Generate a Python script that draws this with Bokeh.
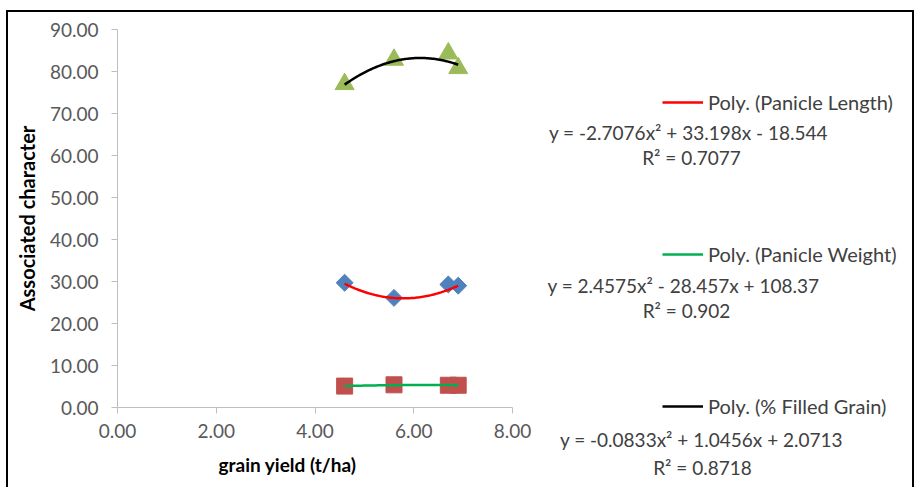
import numpy as np
from bokeh.plotting import figure
from bokeh.layouts import row
from bokeh.models import (Range1d, FixedTicker, NumeralTickFormatter, Label, Legend,
                          LegendItem, Title)
from bokeh.embed import file_html
from bokeh.resources import INLINE

# ---- data ----
grain_yield = [4.6, 5.6, 6.7, 6.9]
panicle_length = [29.7, 26.1, 29.3, 29.0]
panicle_weight = [5.1, 5.4, 5.3, 5.3]
filled_grain = [77.0, 82.8, 84.3, 80.8]

# trendline coefficients as printed on the chart: a*x^2 + b*x + c
coef_red = [2.4575, -28.457, 108.37]
coef_green = [-0.0833, 1.0456, 2.0713]
coef_black = [-2.7076, 33.198, -18.544]

legend_labels = ["Poly. (Panicle Length)", "Poly. (Panicle Weight)", "Poly. (% Filled Grain)"]
equations = ["y = -2.7076x\u00b2 + 33.198x - 18.544",
             "y = 2.4575x\u00b2 - 28.457x + 108.37",
             "y = -0.0833x\u00b2 + 1.0456x + 2.0713"]
r2_texts = ["R\u00b2 = 0.7077", "R\u00b2 = 0.902", "R\u00b2 = 0.8718"]

x_ticks = [0, 2, 4, 6, 8]
y_ticks = [0, 10, 20, 30, 40, 50, 60, 70, 80, 90]

FONT = "Lato"
TICK_COLOR = "#595959"
TEXT_COLOR = "#404040"
AXIS_COLOR = "#BFBFBF"

H = 475
W1 = 535
W2 = 369

# ---------------- main chart ----------------
p = figure(width=W1, height=H, output_backend="svg", toolbar_location=None,
           x_range=Range1d(0, 8), y_range=Range1d(0, 90),
           min_border_left=109, min_border_right=31, min_border_top=17, min_border_bottom=80)
p.frame_align = False
p.outline_line_color = None
p.grid.visible = False

for ax in (p.xaxis[0], p.yaxis[0]):
    ax.axis_line_color = AXIS_COLOR
    ax.major_tick_line_color = AXIS_COLOR
    ax.minor_tick_line_color = None
    ax.major_tick_out = 6
    ax.major_tick_in = 0
    ax.major_label_text_font = FONT
    ax.major_label_text_font_size = "19px"
    ax.major_label_text_color = TICK_COLOR
    ax.formatter = NumeralTickFormatter(format="0.00")

p.xaxis[0].ticker = FixedTicker(ticks=x_ticks)
p.yaxis[0].ticker = FixedTicker(ticks=y_ticks)
p.xaxis[0].major_label_standoff = 10
p.yaxis[0].major_label_standoff = 13

p.yaxis[0].axis_label = "Associated character"
p.yaxis[0].axis_label_text_font = FONT
p.yaxis[0].axis_label_text_font_style = "bold"
p.yaxis[0].axis_label_text_font_size = "20px"
p.yaxis[0].axis_label_text_color = "black"
p.yaxis[0].axis_label_standoff = 8

p.add_layout(Title(text="grain yield (t/ha)", align="left", offset=101, standoff=20,
                   text_font=FONT, text_font_size="19px", text_font_style="bold",
                   text_color="black"), "below")

# markers
p.scatter(grain_yield, panicle_weight, marker="square", size=16,
          fill_color="#C0504D", line_color="#C0504D")
p.scatter(grain_yield, panicle_length, marker="square", angle=np.pi / 4, size=12,
          fill_color="#4F81BD", line_color="#4F81BD")
p.scatter(grain_yield, filled_grain, marker="triangle", size=19,
          fill_color="#9BBB59", line_color="#9BBB59")

# trendlines
xs = np.linspace(min(grain_yield), max(grain_yield), 80)
trend_styles = [("#FF0000", coef_red), ("#00B050", coef_green), ("#000000", coef_black)]
for color, coef in trend_styles:
    p.line(xs, np.polyval(coef, xs), line_color=color, line_width=2.5)

# ---------------- legend / equation panel ----------------
# ranges expressed in picture pixels so the annotations can be placed directly
q = figure(width=W2, height=H, output_backend="svg", toolbar_location=None,
           x_range=Range1d(543, 543 + W2), y_range=Range1d(12 + H, 12),
           x_axis_location=None, y_axis_location=None,
           min_border=0)
q.frame_align = False
q.outline_line_color = None
q.grid.visible = False

# the same trendlines, lying outside this panel's ranges, feed the legend glyphs
legend_renderers = [q.line(xs, np.polyval(coef, xs), line_color=color, line_width=2.5)
                    for color, coef in trend_styles]

legend = Legend(items=[LegendItem(label=lab, renderers=[r])
                       for lab, r in zip(legend_labels, legend_renderers)],
                location=(119, 69), orientation="vertical",
                glyph_width=41, glyph_height=24, label_height=24, label_standoff=5,
                spacing=128, padding=0, margin=0,
                border_line_color=None, background_fill_alpha=0,
                label_text_font=FONT, label_text_font_size="20px",
                label_text_color=TEXT_COLOR)
q.add_layout(legend, "center")

eq_pos = [(688, 132), (683, 285), (701, 439)]
r2_pos = [(691, 157), (686, 310), (702, 467)]
for t, (ex, ey) in zip(equations, eq_pos):
    q.add_layout(Label(x=ex, y=ey, text=t, text_align="center", text_baseline="middle",
                       text_font=FONT, text_font_size="19px", text_color=TEXT_COLOR))
for t, (ex, ey) in zip(r2_texts, r2_pos):
    q.add_layout(Label(x=ex, y=ey, text=t, text_align="center", text_baseline="middle",
                       text_font=FONT, text_font_size="19px", text_color=TEXT_COLOR))

layout = row(p, q, spacing=0,
             styles={"margin-left": "6px", "margin-top": "10px",
                     "border-left": "2px solid black", "border-top": "2px solid black",
                     "border-right": "2px solid black"})

open("out.html", "w").write(file_html(layout, INLINE))
